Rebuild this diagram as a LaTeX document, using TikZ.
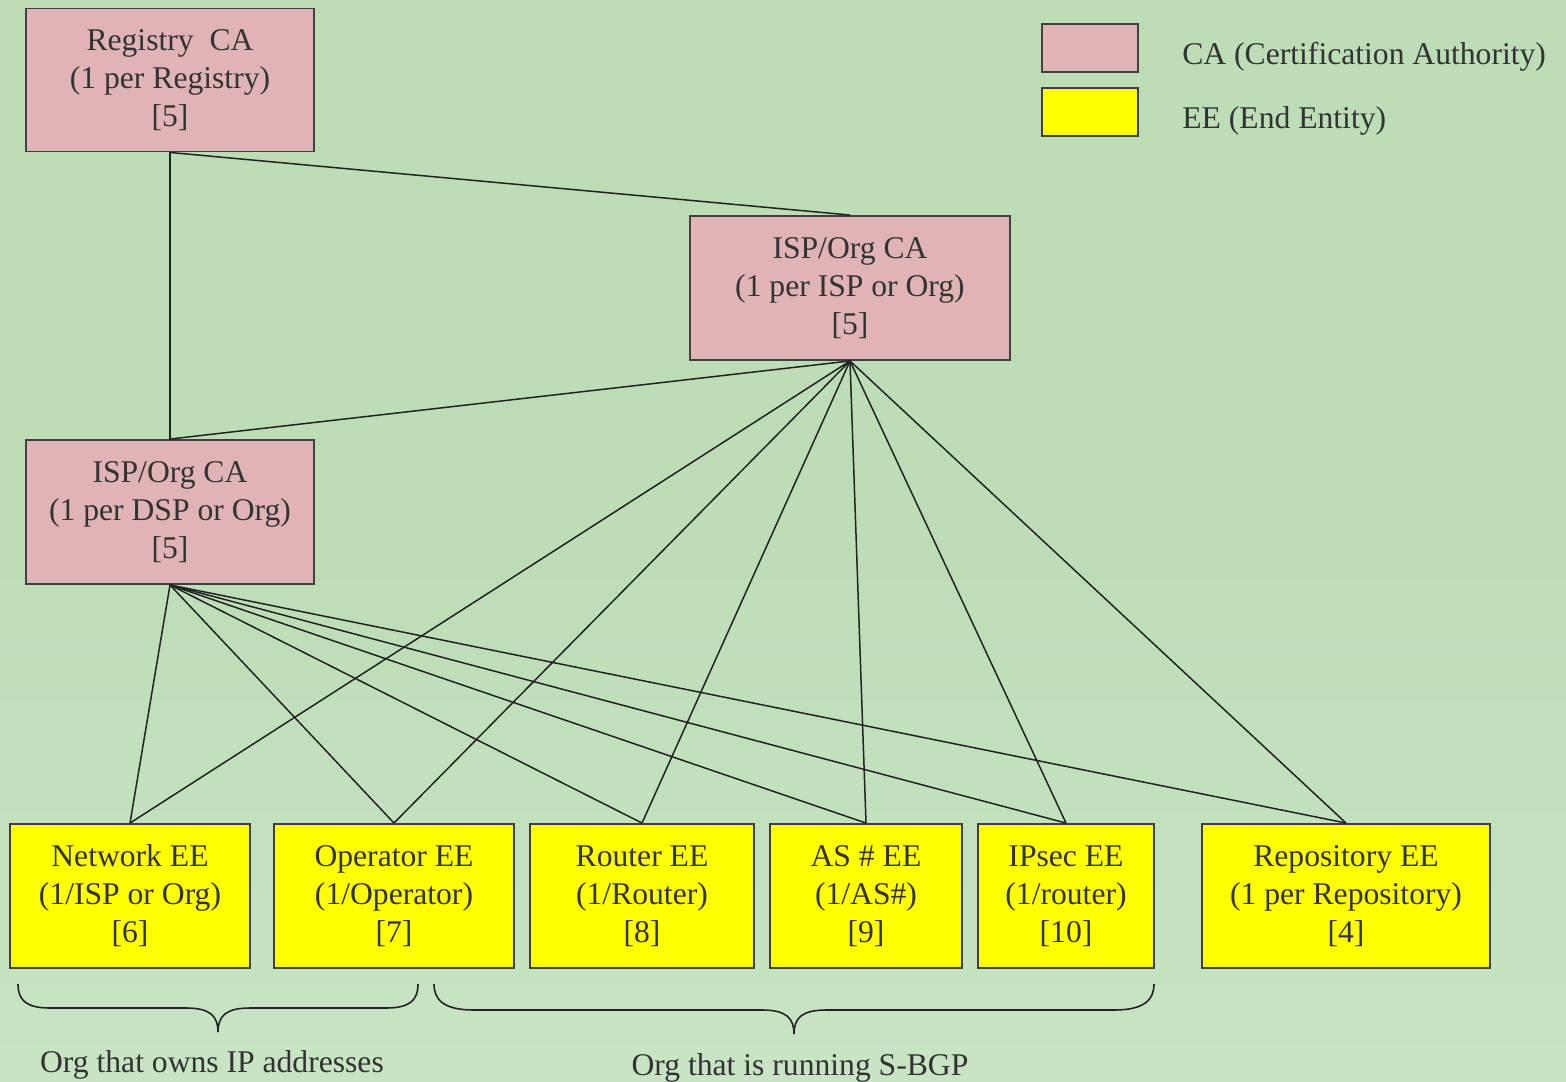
\documentclass[tikz,border=0pt]{standalone}
\usepackage{fontspec}
\setmainfont{Liberation Serif}
\begin{document}
\begin{tikzpicture}[x={(0.02cm,0)},y={(0,-0.02cm)},
  txt/.style={text=textgray,font=\fontsize{18}{21.6}\selectfont,align=center,inner sep=0pt},
  box/.style={txt,draw=boxline,line width=1.1pt,rectangle},
  cabox/.style={box,fill=capink},
  eebox/.style={box,fill=eeyellow},
  link/.style={draw=linegray,line width=0.85pt},
  brace/.style={draw=linegray,line width=0.9pt}]
\definecolor{bggreen}{RGB}{188,221,182}
\definecolor{bgpale}{RGB}{200,228,196}
\definecolor{capink}{RGB}{224,180,182}
\definecolor{eeyellow}{RGB}{255,255,0}
\definecolor{boxline}{RGB}{64,64,64}
\definecolor{linegray}{RGB}{34,34,34}
\definecolor{textgray}{RGB}{51,51,51}

% background
\shade[top color=bggreen,bottom color=bgpale,middle color=bggreen] (0,0) rectangle (1566,1082);
\useasboundingbox (0,0) rectangle (1566,1082);

% certification authorities
\node[cabox,minimum width=5.76cm,minimum height=2.86cm] (reg) at (170,80)
  {Registry\ \ CA\\(1 per Registry)\\{}[5]};
\node[cabox,minimum width=6.4cm,minimum height=2.88cm] (isp1) at (850,288)
  {ISP/Org CA\\(1 per ISP or Org)\\{}[5]};
\node[cabox,minimum width=5.76cm,minimum height=2.88cm] (isp2) at (170,512)
  {ISP/Org CA\\(1 per DSP or Org)\\{}[5]};

% end entities
\node[eebox,minimum width=4.8cm,minimum height=2.88cm] (net) at (130,896)
  {Network EE\\(1/ISP or Org)\\{}[6]};
\node[eebox,minimum width=4.8cm,minimum height=2.88cm] (op) at (394,896)
  {Operator EE\\(1/Operator)\\{}[7]};
\node[eebox,minimum width=4.48cm,minimum height=2.88cm] (rt) at (642,896)
  {Router EE\\(1/Router)\\{}[8]};
\node[eebox,minimum width=3.84cm,minimum height=2.88cm] (as) at (866,896)
  {AS \# EE\\(1/AS\#)\\{}[9]};
\node[eebox,minimum width=3.52cm,minimum height=2.88cm] (ips) at (1066,896)
  {IPsec EE\\(1/router)\\{}[10]};
\node[eebox,minimum width=5.76cm,minimum height=2.88cm] (rep) at (1346,896)
  {Repository EE\\(1 per Repository)\\{}[4]};

% legend
\node[cabox,minimum width=1.92cm,minimum height=0.96cm] (lgca) at (1090,48) {};
\node[eebox,minimum width=1.92cm,minimum height=0.96cm] (lgee) at (1090,112) {};
\node[txt,anchor=west] (lgcat) at (1182,57) {CA (Certification Authority)};
\node[txt,anchor=west] (lgeet) at (1182,121) {EE (End Entity)};

% hierarchy links
\draw[link] (reg.south) -- (isp2.north);
\draw[link] (reg.south) -- (isp1.north);
\draw[link] (isp1.south) -- (isp2.north);
\foreach \ee in {net,op,rt,as,ips,rep}{
  \draw[link] (isp1.south) -- (\ee.north);
  \draw[link] (isp2.south) -- (\ee.north);
}

% groupings
\draw[brace] (18,984) .. controls (18,1000) and (26,1008) .. (50,1008) -- (186,1008)
  .. controls (210,1008) and (218,1016) .. (218,1032)
  .. controls (218,1016) and (226,1008) .. (250,1008) -- (386,1008)
  .. controls (410,1008) and (418,1000) .. (418,984);
\draw[brace] (434,984) .. controls (434,1000) and (444,1010) .. (474,1010) -- (762,1010)
  .. controls (786,1010) and (794,1018) .. (794,1034)
  .. controls (794,1018) and (802,1010) .. (826,1010) -- (1114,1010)
  .. controls (1144,1010) and (1154,1000) .. (1154,984);
\node[txt] (lbl1) at (212,1065) {Org that owns IP addresses};
\node[txt] (lbl2) at (800,1068) {Org that is running S-BGP};
\end{tikzpicture}
\end{document}
